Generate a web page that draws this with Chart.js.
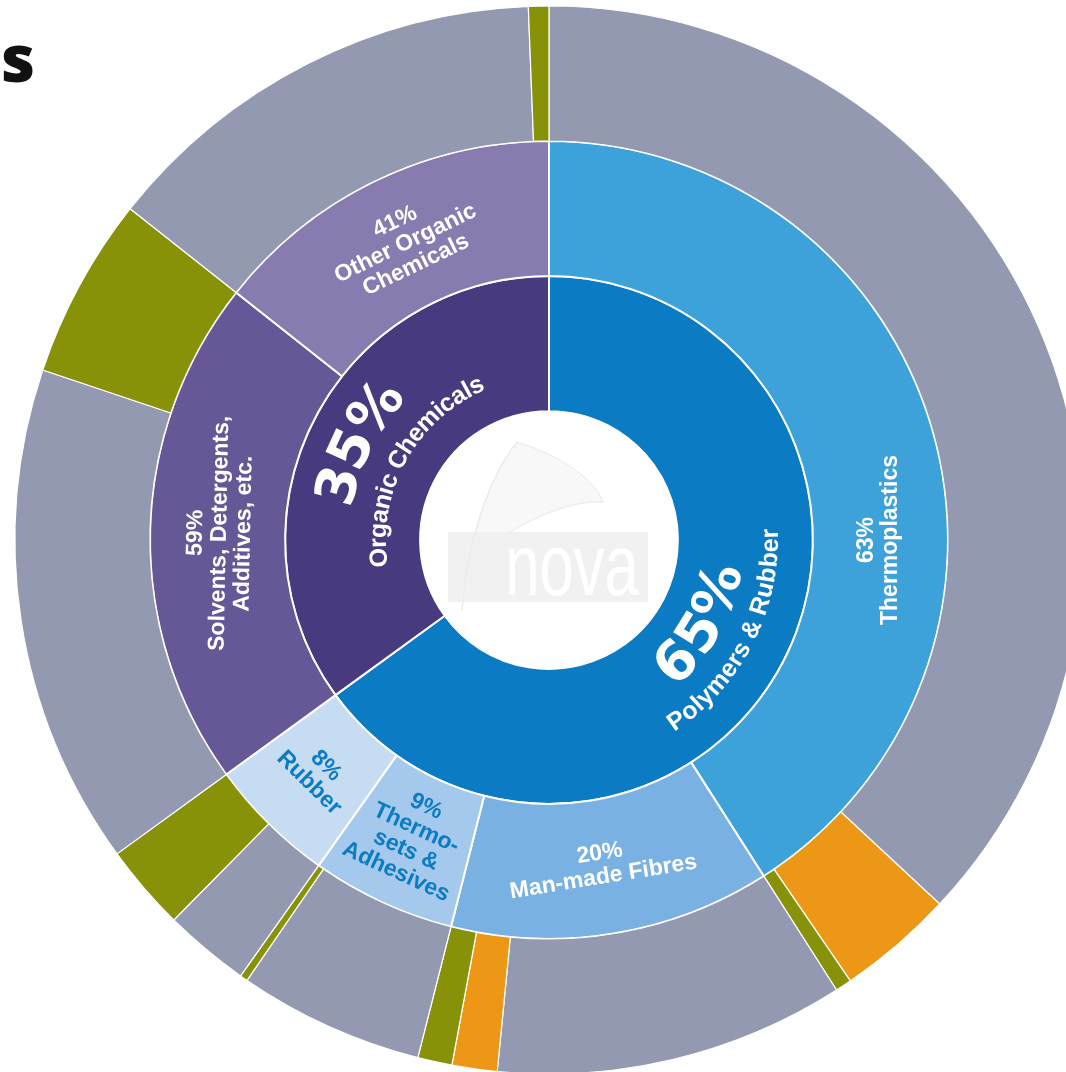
<!DOCTYPE html>
<html>
<head>
<meta charset="utf-8">
<script src="https://cdn.jsdelivr.net/npm/chart.js@4.4.0/dist/chart.umd.min.js"></script>
<style>
  html, body { margin: 0; padding: 0; background: #fff; overflow: hidden; }
  body { width: 1066px; height: 1072px; position: relative; }
  #wrap { position: absolute; left: -11px; top: -20px; width: 1120px; height: 1120px; }
  .title { position: absolute; left: 1px; top: 21px; font: 800 66px "Open Sans", sans-serif; line-height: 70px; color: #111; }
</style>
</head>
<body>
<div id="wrap"><canvas id="sunburst" width="1120" height="1120"></canvas></div>
<div class="title">s</div>
<script>
// inner ring: sectors, % of total
const sectors = ["Polymers & Rubber", "Organic Chemicals"];
const sectorShares = [65, 35];
const sectorColors = ["#0b7bc4", "#483a7e"];

// middle ring: applications, % of their sector
const segments = ["Thermoplastics", "Man-made Fibres", "Thermosets & Adhesives", "Rubber",
  "Solvents, Detergents, Additives, etc.", "Other Organic Chemicals"];
const segmentSector = [0, 0, 0, 0, 1, 1];
const segmentShares = [63, 20, 9, 8, 59, 41];
const segmentColors = ["#3da1da", "#79b2e2", "#a4c9ec", "#c6dcf2", "#665897", "#877baf"];
const segmentLines = [["Thermoplastics"], ["Man-made Fibres"], ["Thermo-", "sets &", "Adhesives"],
  ["Rubber"], ["Solvents, Detergents,", "Additives, etc."], ["Other Organic", "Chemicals"]];
const segmentTextColors = ["#fff", "#fff", "#0b7bc4", "#0b7bc4", "#fff", "#fff"];

// outer ring: carbon source, % of each application
const sources = ["Fossil", "Recycled", "Bio-based"];
const fossilShares = [90.2, 81.5, 96, 50, 73.4, 95.7];
const recycledShares = [8.6, 10.5, 0, 0, 0, 0];
const bioShares = [1.2, 8, 4, 50, 26.6, 4.3];
const sourceColors = ["#9399b0", "#ec9816", "#879208"];

const segmentValues = segmentShares.map((s, i) => sectorShares[segmentSector[i]] * s / 100);

const sourceValues = [];
const sourceBg = [];
const sourceNames = [];
segmentValues.forEach((v, i) => {
  [fossilShares, recycledShares, bioShares].forEach((arr, k) => {
    if (arr[i] > 0) {
      sourceValues.push(v * arr[i] / 100);
      sourceBg.push(sourceColors[k]);
      sourceNames.push(segments[i] + " - " + sources[k]);
    }
  });
});

const SANS = '"Liberation Sans", Arial, sans-serif';

function drawArcText(ctx, text, cx, cy, r, centerDeg, font, color, flip) {
  ctx.save();
  ctx.font = font;
  ctx.fillStyle = color;
  ctx.textAlign = "center";
  ctx.textBaseline = "middle";
  const dir = flip ? -1 : 1;
  const total = ctx.measureText(text).width;
  let a = centerDeg * Math.PI / 180 - dir * total / 2 / r;
  for (const ch of text) {
    const w = ctx.measureText(ch).width;
    const mid = a + dir * w / 2 / r;
    ctx.save();
    ctx.translate(cx + r * Math.sin(mid), cy - r * Math.cos(mid));
    ctx.rotate(flip ? mid + Math.PI : mid);
    ctx.fillText(ch, 0, 0);
    ctx.restore();
    a += dir * w / r;
  }
  ctx.restore();
}

function drawLogo(ctx, cx, cy) {
  ctx.save();
  ctx.translate(cx, cy);
  // sail
  ctx.beginPath();
  ctx.moveTo(-87, 70);
  ctx.bezierCurveTo(-82, 5, -62, -60, -32, -98);
  ctx.bezierCurveTo(10, -85, 45, -62, 54, -38);
  ctx.bezierCurveTo(10, -40, -55, -5, -82, 27);
  ctx.fillStyle = "#f8f8f8";
  ctx.fill();
  ctx.strokeStyle = "#ebebeb";
  ctx.lineWidth = 1.2;
  ctx.stroke();
  // banner
  ctx.fillStyle = "#f1f1f1";
  ctx.fillRect(-101, -8, 200, 70);
  ctx.beginPath();
  ctx.moveTo(-87, 70);
  ctx.bezierCurveTo(-82, 5, -62, -60, -32, -98);
  ctx.stroke();
  ctx.fillStyle = "#fff";
  ctx.textAlign = "center";
  ctx.textBaseline = "alphabetic";
  ctx.translate(23, 55);
  ctx.scale(0.7, 1);
  ctx.font = "88px " + SANS;
  ctx.fillText("nova", 0, 0);
  ctx.restore();
}

const sunburstLabels = {
  id: "sunburstLabels",
  afterDatasetsDraw(chart) {
    const ctx = chart.ctx;
    const inner = chart.getDatasetMeta(2).data;
    const middle = chart.getDatasetMeta(1).data;
    const cx = inner[0].x, cy = inner[0].y;

    drawLogo(ctx, cx, cy);

    // inner ring, curved text
    inner.forEach((arc, i) => {
      const mid = ((arc.startAngle + arc.endAngle) / 2 + Math.PI / 2) * 180 / Math.PI;
      const flip = mid > 90 && mid < 270;
      const pct = sectorShares[i] + "%";
      const bigFont = "bold 55px 'DejaVu Sans', sans-serif";
      const smallFont = "bold 25px " + SANS;
      if (flip) {
        drawArcText(ctx, pct, cx, cy, 180, mid + 2, bigFont, "#fff", true);
        drawArcText(ctx, sectors[i], cx, cy, 222, mid, smallFont, "#fff", true);
      } else {
        drawArcText(ctx, pct, cx, cy, 214, mid, bigFont, "#fff", false);
        drawArcText(ctx, sectors[i], cx, cy, 170, mid + 2, smallFont, "#fff", false);
      }
    });

    // middle ring, straight text
    middle.forEach((arc, i) => {
      let mid = ((arc.startAngle + arc.endAngle) / 2 + Math.PI / 2) * 180 / Math.PI;
      let rot = mid <= 90 ? mid : mid < 270 ? mid - 180 : mid - 360;
      if (i === 0) { mid = 90; rot = -90; }
      const r = (arc.innerRadius + arc.outerRadius) / 2 - 2;
      const a = mid * Math.PI / 180;
      const lines = [segmentShares[i] + "%"].concat(segmentLines[i]);
      const lh = 24;
      ctx.save();
      ctx.translate(cx + r * Math.sin(a), cy - r * Math.cos(a));
      ctx.rotate(rot * Math.PI / 180);
      ctx.font = "bold 23px " + SANS;
      ctx.fillStyle = segmentTextColors[i];
      ctx.textAlign = "center";
      ctx.textBaseline = "middle";
      lines.forEach((t, k) => {
        ctx.fillText(t, 0, (k - (lines.length - 1) / 2) * lh);
      });
      ctx.restore();
    });
  }
};

new Chart(document.getElementById("sunburst"), {
  type: "doughnut",
  data: {
    labels: sourceNames,
    datasets: [
      {
        label: "Carbon source",
        data: sourceValues,
        backgroundColor: sourceBg,
        borderColor: "#fff",
        borderWidth: 1.2,
      },
      {
        label: "Application",
        data: segmentValues,
        backgroundColor: segmentColors,
        borderColor: "#fff",
        borderWidth: 2,
      },
      {
        label: "Sector",
        data: sectorShares,
        backgroundColor: sectorColors,
        borderColor: "#fff",
        borderWidth: 2,
      },
    ],
  },
  options: {
    responsive: false,
    animation: false,
    events: [],
    radius: 534,
    cutout: 135,
    layout: { padding: 0 },
    plugins: {
      legend: { display: false },
      tooltip: { enabled: false },
    },
  },
  plugins: [sunburstLabels],
});
</script>
</body>
</html>
